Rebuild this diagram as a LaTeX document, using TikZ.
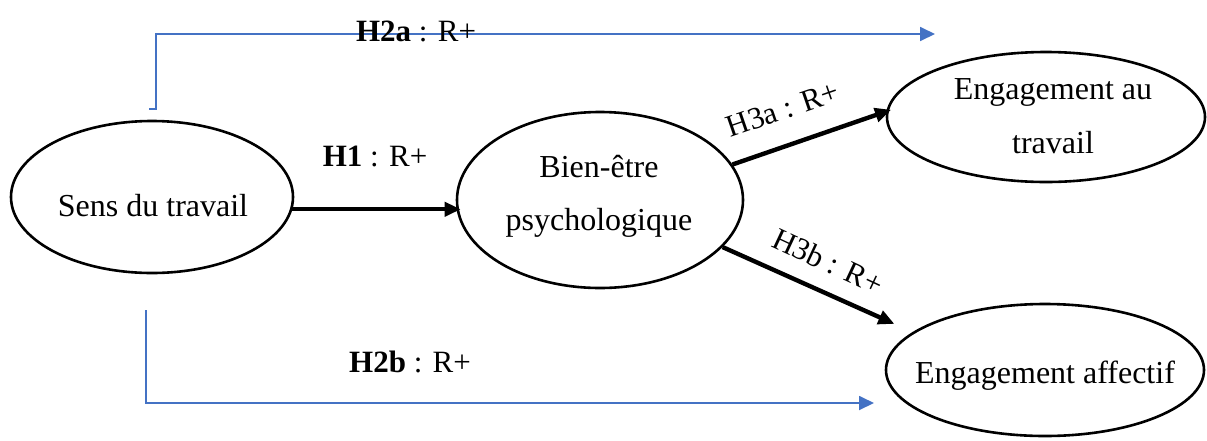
\documentclass[tikz,border=0pt]{standalone}
\usepackage{fontspec}
\setmainfont{Liberation Serif}
\usetikzlibrary{arrows.meta,shapes.geometric}
\definecolor{wordblue}{HTML}{4472C4}
\tikzset{
  oval/.style={draw=black,line width=2.6pt,ellipse,inner sep=0pt},
  maintext/.style={anchor=base,inner sep=0pt,font=\fontsize{32}{38}\selectfont},
  labtext/.style={anchor=base,inner sep=0pt,font=\fontsize{31}{37}\selectfont},
  blackarrow/.style={line width=4.4pt,-{Triangle[length=16pt,width=14pt]}},
  bluearrow/.style={draw=wordblue,line width=1.8pt,-{Triangle[length=15pt,width=14pt]},color=wordblue},
}
\begin{document}
\begin{tikzpicture}[x=1pt,y=-1pt]
\useasboundingbox (0,0) rectangle (1207,440);
% ellipses
\node[oval,minimum width=282pt,minimum height=152pt] (sens) at (152,197) {};
\node[oval,minimum width=286pt,minimum height=176pt] (bien) at (600,200) {};
\node[oval,minimum width=318pt,minimum height=130pt] (engt) at (1046,117) {};
\node[oval,minimum width=318pt,minimum height=132pt] (enga) at (1045,370) {};
% texts
\node[maintext] (sensT) at (153,216) {Sens du travail};
\node[maintext] (bienA) at (599,177) {Bien-être};
\node[maintext] (bienB) at (599,230) {psychologique};
\node[maintext] (engtA) at (1053,99) {Engagement au};
\node[maintext] (engtB) at (1053,153) {travail};
\node[maintext] (engaT) at (1045,383) {Engagement affectif};
% black arrows
\draw[blackarrow,shorten >=-5pt] (sens.-5) -- (sens.-5 -| bien.west);
\draw[blackarrow,shorten >=-5pt] (bien.15) -- (engt.178);
\draw[blackarrow,shorten >=20pt] (bien.-21.5) -- (enga.164);
% blue connectors
\coordinate (a0) at (149,109);
\coordinate (a1) at (935,34);
\coordinate (b0) at (146,310);
\coordinate (b1) at (874,403);
\draw[bluearrow] (a0) -- ++(7,0) |- (a1);
\draw[bluearrow] (b0) |- (b1);
% labels
\node[labtext] (lH2a) at (416,41) {\textbf{H2a} : R+};
\node[labtext] (lH1) at (375,166) {\textbf{H1} : R+};
\node[labtext] (lH2b) at (410,372) {\textbf{H2b} : R+};
\node[labtext,rotate=19] (lH3a) at (786,119) {H3a : R+};
\node[labtext,rotate=-25] (lH3b) at (824,271) {H3b : R+};
\end{tikzpicture}
\end{document}
